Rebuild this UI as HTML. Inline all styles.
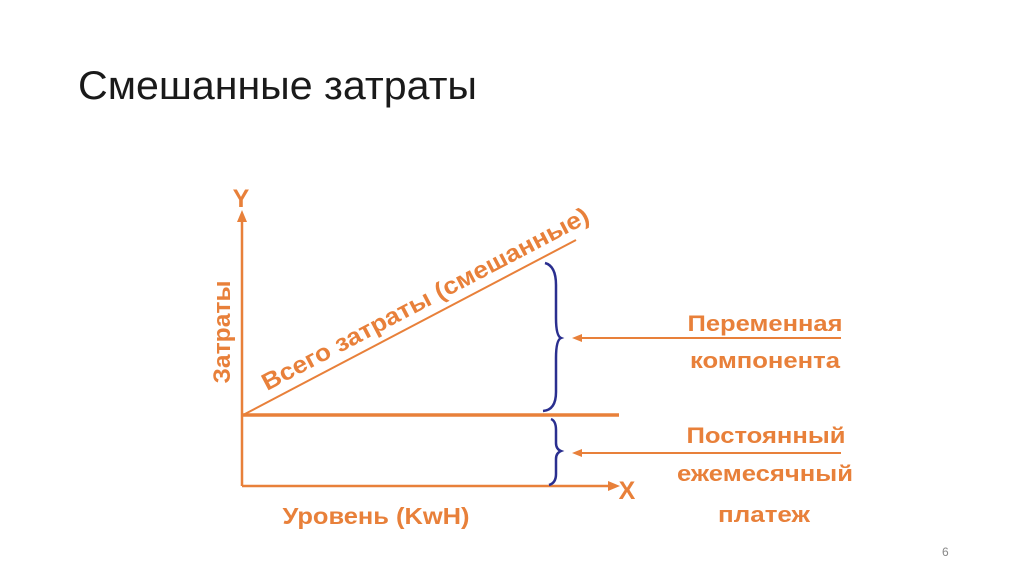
<!DOCTYPE html>
<html><head><meta charset="utf-8"><style>
html,body{margin:0;padding:0;background:#fff;}
svg{display:block;}
</style></head><body>
<svg width="1024" height="574" viewBox="0 0 1024 574" xmlns="http://www.w3.org/2000/svg">
<text x="78" y="99" font-family="Liberation Sans, DejaVu Sans, sans-serif" font-size="40" fill="#1a1a1a" textLength="399" lengthAdjust="spacingAndGlyphs">Смешанные затраты</text>
<g stroke="#E8803A" fill="none">
<line x1="242" y1="486" x2="242" y2="220" stroke-width="2.5"/>
<line x1="242" y1="486" x2="610" y2="486" stroke-width="2.5"/>
<line x1="242" y1="415" x2="619" y2="415" stroke-width="3.5"/>
<line x1="243" y1="415" x2="576" y2="240" stroke-width="2"/>
<line x1="580" y1="338" x2="841" y2="338" stroke-width="2"/>
<line x1="580" y1="453" x2="841" y2="453" stroke-width="2"/>
</g>
<g fill="#E8803A">
<polygon points="242,210 237,222 247,222"/>
<polygon points="620,486 608,481 608,491"/>
<polygon points="572,338 582,334 582,342"/>
<polygon points="572,453 582,449 582,457"/>
</g>
<g stroke="#2a2f8f" stroke-width="2.5" fill="none">
<path d="M545,263 Q556,266 556,285 L556,318 Q556,336 561,338 Q556,340 556,358 L556,392 Q556,410 543,411"/>
<path d="M551,419 Q556,421 556,430 L556,443 Q556,449 561,451 Q556,453 556,459 L556,474 Q556,483 549,485"/>
</g>
<g font-family="Liberation Sans, DejaVu Sans, sans-serif" font-weight="bold" fill="#E8803A">
<text x="241" y="207" font-size="25" text-anchor="middle">Y</text>
<text x="627" y="499" font-size="25" text-anchor="middle">X</text>
<text transform="translate(230,332) rotate(-90)" font-size="24" text-anchor="middle" textLength="103" lengthAdjust="spacingAndGlyphs">Затраты</text>
<text transform="translate(429,306) rotate(-27.7)" font-size="24" text-anchor="middle" textLength="366" lengthAdjust="spacingAndGlyphs">Всего затраты (смешанные)</text>
<text x="376" y="524" font-size="23" text-anchor="middle" textLength="187" lengthAdjust="spacingAndGlyphs">Уровень (KwH)</text>
<g font-size="22" text-anchor="middle">
<text x="765" y="331" textLength="155" lengthAdjust="spacingAndGlyphs">Переменная</text>
<text x="765" y="368" textLength="150" lengthAdjust="spacingAndGlyphs">компонента</text>
<text x="766" y="443" textLength="159" lengthAdjust="spacingAndGlyphs">Постоянный</text>
<text x="765" y="481" textLength="176" lengthAdjust="spacingAndGlyphs">ежемесячный</text>
<text x="764" y="522" textLength="92" lengthAdjust="spacingAndGlyphs">платеж</text>
</g>
</g>
<text x="942" y="556" font-family="Liberation Sans, sans-serif" font-size="12" fill="#888">6</text>
</svg>
</body></html>
